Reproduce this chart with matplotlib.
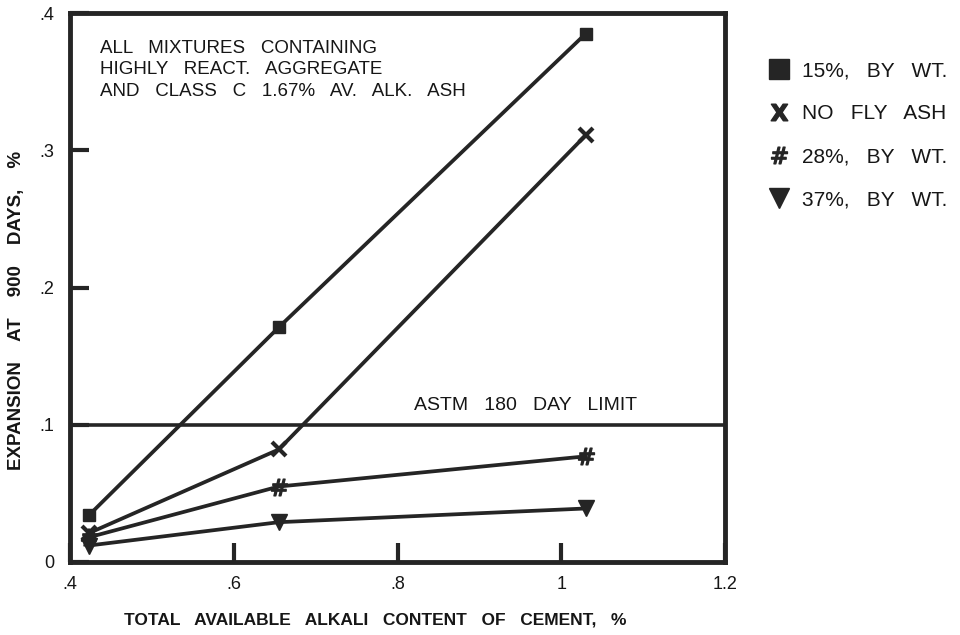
import matplotlib
matplotlib.use("Agg")
import matplotlib.pyplot as plt
from matplotlib.lines import Line2D

plt.rcParams['font.family'] = ['Liberation Sans', 'DejaVu Sans']

# Total available alkali content of cement, %
alkali = [0.423, 0.655, 1.03]

# Expansion at 900 days, %
fly_ash_15 = [0.034, 0.171, 0.385]
no_fly_ash = [0.021, 0.082, 0.311]
fly_ash_28 = [0.018, 0.055, 0.077]
fly_ash_37 = [0.012, 0.029, 0.039]

astm_limit = 0.1

x_ticks = [0.4, 0.6, 0.8, 1.0, 1.2]
x_tick_labels = ['.4', '.6', '.8', '1', '1.2']
y_ticks = [0.0, 0.1, 0.2, 0.3, 0.4]
y_tick_labels = ['0', '.1', '.2', '.3', '.4']

series_labels = ['15%,   BY   WT.', 'NO   FLY   ASH', '28%,   BY   WT.', '37%,   BY   WT.']

ink = '#252525'
text_color = '#161616'

fig = plt.figure(figsize=(9.6, 6.35), dpi=100)
ax = fig.add_axes([70 / 960, 1 - 562 / 635, 655 / 960, 549 / 635])

lw = 2.7
ax.plot(alkali, fly_ash_15, color=ink, lw=lw, marker='s', ms=9, zorder=3)
ax.plot(alkali, no_fly_ash, color=ink, lw=lw, marker='x', ms=10, mew=3, zorder=3)
ax.plot(alkali, fly_ash_28, color=ink, lw=lw, marker=r'$\#$', ms=12, zorder=3)
ax.plot(alkali, fly_ash_37, color=ink, lw=lw, marker='v', ms=11, zorder=3)

ax.axhline(astm_limit, color=ink, lw=2.6, zorder=2)
ax.text(0.957, 0.114, 'ASTM   180   DAY   LIMIT', ha='center', va='center',
        fontsize=14, color=text_color)

ax.text(0.4366, 0.3805,
        'ALL   MIXTURES   CONTAINING\nHIGHLY   REACT.   AGGREGATE\nAND   CLASS   C   1.67%   AV.   ALK.   ASH',
        ha='left', va='top', fontsize=13.5, color=text_color, linespacing=1.36)

ax.set_xlim(0.4, 1.2)
ax.set_ylim(0.0, 0.4)
ax.set_xticks(x_ticks)
ax.set_xticklabels(x_tick_labels)
ax.set_yticks(y_ticks)
ax.set_yticklabels(y_tick_labels)
ax.tick_params(axis='both', direction='in', length=14, width=3, color=ink,
               labelsize=13, labelcolor=text_color)
ax.tick_params(axis='x', pad=10)
ax.tick_params(axis='y', pad=11)

for s in ax.spines.values():
    s.set_linewidth(3.5)
    s.set_color(ink)

fig.text(375 / 960, 1 - 620 / 635, 'TOTAL   AVAILABLE   ALKALI   CONTENT   OF   CEMENT,   %',
         ha='center', va='center', fontsize=12.5, fontweight='bold', color=text_color)
fig.text(17 / 960, 1 - 310 / 635, 'EXPANSION    AT    900    DAYS,    %', rotation=90,
         ha='center', va='center', fontsize=13.5, fontweight='bold', color=text_color)

handles = [
    Line2D([], [], ls='none', marker='s', ms=14, color=ink),
    Line2D([], [], ls='none', marker=r'$\mathbf{X}$', ms=12, color=ink),
    Line2D([], [], ls='none', marker=r'$\#$', ms=12, color=ink),
    Line2D([], [], ls='none', marker='v', ms=14, color=ink),
]
fig.legend(handles, series_labels, loc='upper left', bbox_to_anchor=(762 / 960, 1 - 53 / 635),
           frameon=False, handlelength=0.8, handletextpad=0.7, labelspacing=1.15,
           fontsize=15, labelcolor=text_color, borderaxespad=0)

fig.savefig('out.png', dpi=100)
